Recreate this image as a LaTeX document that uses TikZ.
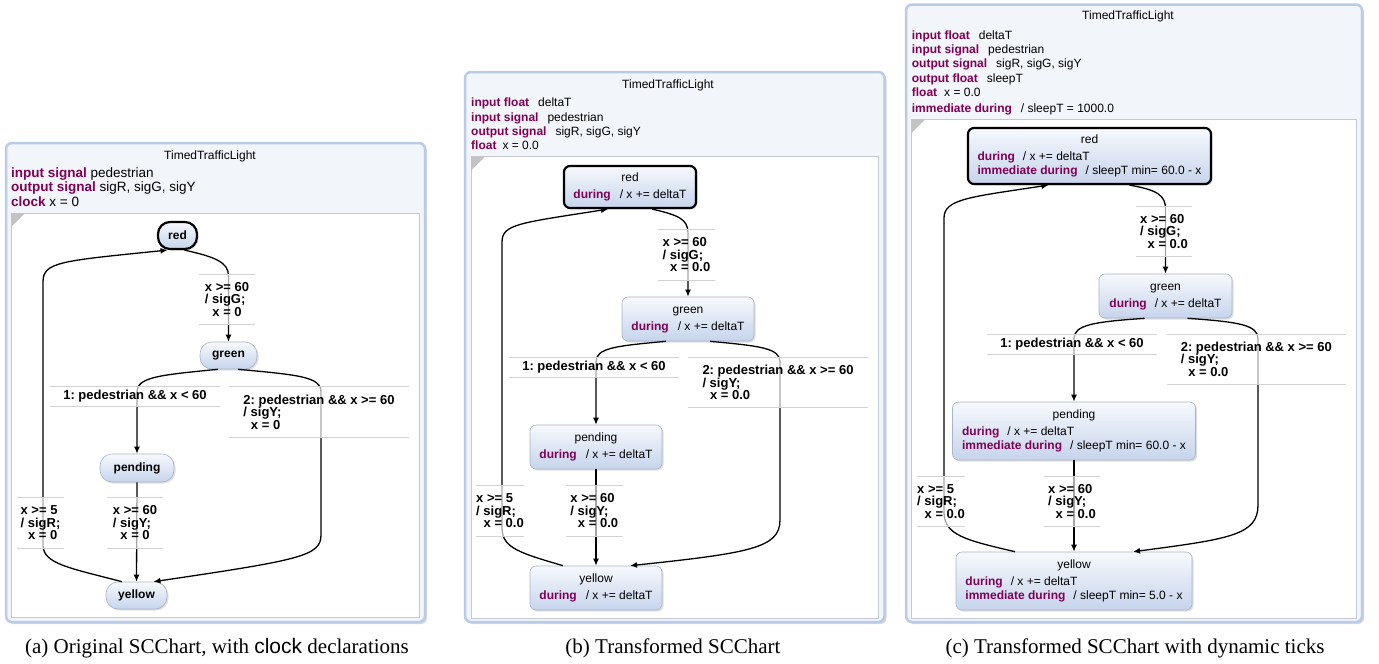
\documentclass[tikz,border=0pt]{standalone}
\usepackage{fontspec}
\setmainfont{Liberation Serif}
\setsansfont{Liberation Sans}
\usetikzlibrary{arrows.meta,shadows}
\definecolor{kw}{HTML}{7F0055}
\definecolor{stTop}{HTML}{F7F9FD}
\definecolor{stBot}{HTML}{C6D4EC}
\definecolor{stBorder}{HTML}{A8B4C8}
\definecolor{panelBorder}{HTML}{B9CBE6}
\definecolor{panelFill}{HTML}{F2F5FA}
\definecolor{innerBorder}{HTML}{C4C9D1}
\definecolor{lblGray}{HTML}{D2D2D2}
\definecolor{cornerGray}{HTML}{C3C3C3}
\newcommand{\kwd}[1]{{\bfseries\color{kw}#1}}
\newcommand{\stbody}[2]{\begin{tabular}{@{}l@{}}\multicolumn{1}{@{}c@{}}{#1}\\[3pt]#2\end{tabular}}
\newcommand{\hlines}[1]{\draw[lblline] (#1.north west) -- (#1.north east) (#1.south west) -- (#1.south east);}
\frenchspacing
\tikzset{
  every node/.style={font=\sffamily\fontsize{12}{14}\selectfont},
  pill/.style={rectangle, rounded corners=12pt, draw=stBorder, line width=0.6pt,
    top color=stTop, bottom color=stBot, inner sep=0pt,
    drop shadow={opacity=0.25,shadow xshift=1.5pt,shadow yshift=-1.5pt},
    font=\sffamily\bfseries\fontsize{12}{14}\selectfont},
  stbox/.style={rectangle, rounded corners=6pt, draw=stBorder, line width=0.6pt,
    top color=stTop, bottom color=stBot, inner sep=0pt,
    drop shadow={opacity=0.25,shadow xshift=1.5pt,shadow yshift=-1.5pt}},
  initst/.style={draw=black, line width=2.2pt},
  tr/.style={draw=black, line width=1.3pt, -{Latex[length=7pt,width=6pt]}},
  lbl/.style={fill=white, fill opacity=0.65, text opacity=1, inner sep=0pt, align=left,
    font=\sffamily\bfseries\fontsize{13}{12.5}\selectfont},
  lblline/.style={draw=lblGray, line width=0.8pt},
  panel/.style={draw=panelBorder, line width=2.5pt, fill=panelFill, rounded corners=6pt,
    drop shadow={opacity=0.3,shadow xshift=2pt,shadow yshift=-2pt}},
  innerarea/.style={draw=innerBorder, line width=0.7pt, fill=white},
  cornermark/.style={fill=cornerGray},
  decl/.style={anchor=north west, align=left, inner sep=0pt},
  ttl/.style={inner sep=0pt},
  capt/.style={font=\rmfamily\fontsize{21}{24}\selectfont, inner sep=0pt}
}
\begin{document}
\frenchspacing
\begin{tikzpicture}[x=1pt,y=-1pt]
\useasboundingbox (0,0) rectangle (1379,664);
\fill[white] (0,0) rectangle (1379,664);

% ================= panel (a) =================
\draw[panel] (6,143) rectangle (425,622);
\draw[innerarea] (11,213) rectangle (419,617);
\fill[cornermark] (11,213) -- (25,213) -- (11,227) -- cycle;
\node[ttl] (ta) at (210,156) {TimedTrafficLight};
\node[decl,font=\sffamily\fontsize{13.5}{14.5}\selectfont] (da) at (11,167.5)
  {\kwd{input signal} pedestrian\\\kwd{output signal} sigR, sigG, sigY\\\kwd{clock} x = 0};

\node[pill,initst,minimum width=39pt,minimum height=27pt] (ra) at (177.5,235.5) {red};
\node[pill,minimum width=57pt,minimum height=27pt] (ga) at (228.5,355.5) {green};
\node[pill,minimum width=74pt,minimum height=28pt] (pa) at (137,468) {pending};
\node[pill,minimum width=61pt,minimum height=27pt] (ya) at (136.5,595.5) {yellow};

\draw[tr] ([xshift=7pt]ra.south) .. controls (215,257) and (228.5,262) .. (228.5,276) -- (ga.north);
\draw[tr] ([xshift=-10.5pt]ga.south) .. controls (160,375) and (137,377) .. (137,392) -- (pa.north);
\draw[tr] ([xshift=9.5pt]ga.south) .. controls (300,375) and (321,377) .. (321,392) -- (321,535)
  .. controls (321,556) and (300,560) .. ([xshift=17pt]ya.north);
\draw[tr] (pa.south) -- (ya.north);
\draw[tr] ([xshift=-14.5pt]ya.north) .. controls (70,568) and (43,564) .. (43,545) -- (43,282)
  .. controls (43,262) and (60,261) .. ([xshift=-10pt]ra.south);

\node[lbl,minimum width=56pt,minimum height=49pt] (la1) at (227,299.5) {x >= 60\\/ sigG;\\\hspace*{7.5pt}x = 0};
\node[lbl,minimum width=170pt,minimum height=19.5pt] (la2) at (135,396.5) {1: pedestrian \&\& x < 60};
\node[lbl,minimum width=180pt,minimum height=50pt] (la3) at (319,412) {2: pedestrian \&\& x >= 60\\/ sigY;\\\hspace*{7.5pt}x = 0};
\node[lbl,minimum width=56pt,minimum height=50pt] (la4) at (135,523) {x >= 60\\/ sigY;\\\hspace*{7.5pt}x = 0};
\node[lbl,minimum width=47pt,minimum height=50pt] (la5) at (40.5,523) {x >= 5\\/ sigR;\\\hspace*{7.5pt}x = 0};
\hlines{la1}\hlines{la2}\hlines{la3}\hlines{la4}\hlines{la5}

% ================= panel (b) =================
\draw[panel] (465,72) rectangle (884.5,622);
\draw[innerarea] (471,156.7) rectangle (878,618);
\fill[cornermark] (471,156.7) -- (485,156.7) -- (471,170.7) -- cycle;
\node[ttl] (tb) at (668,85) {TimedTrafficLight};
\node[decl,font=\sffamily\fontsize{12}{14.3}\selectfont] (db) at (471,98)
  {\kwd{input float}\hspace{9pt}deltaT\\\kwd{input signal}\hspace{9pt}pedestrian\\\kwd{output signal}\hspace{9pt}sigR, sigG, sigY\\\kwd{float}\hspace{6pt}x = 0.0};

\node[stbox,initst,minimum width=132pt,minimum height=42pt] (rb) at (630,187) {\stbody{red}{\kwd{during}\hspace{9pt}/ x += deltaT}};
\node[stbox,minimum width=132pt,minimum height=44pt] (gb) at (688,319) {\stbody{green}{\kwd{during}\hspace{9pt}/ x += deltaT}};
\node[stbox,minimum width=132pt,minimum height=44pt] (pb) at (596,447) {\stbody{pending}{\kwd{during}\hspace{9pt}/ x += deltaT}};
\node[stbox,minimum width=132pt,minimum height=44pt] (yb) at (596,588) {\stbody{yellow}{\kwd{during}\hspace{9pt}/ x += deltaT}};

\draw[tr] ([xshift=22pt]rb.south) .. controls (678,215) and (688,219) .. (688,233) -- (gb.north);
\draw[tr] ([xshift=-22pt]gb.south) .. controls (615,346) and (596,348) .. (596,362) -- (pb.north);
\draw[tr] ([xshift=22pt]gb.south) .. controls (760,346) and (780,348) .. (780,362) -- (780,520)
  .. controls (780,548) and (750,553) .. ([xshift=34pt]yb.north);
\draw[tr] (pb.south) -- (yb.north);
\draw[tr] ([xshift=-33pt]yb.north) .. controls (520,553) and (502,548) .. (502,528) -- (502,242)
  .. controls (502,224) and (520,223) .. ([xshift=-22pt]rb.south);

\node[lbl,minimum width=57pt,minimum height=50pt] (lb1) at (686.5,255) {x >= 60\\/ sigG;\\\hspace*{7.5pt}x = 0.0};
\node[lbl,minimum width=170pt,minimum height=19pt] (lb2) at (594,367.5) {1: pedestrian \&\& x < 60};
\node[lbl,minimum width=180pt,minimum height=49pt] (lb3) at (778,382.5) {2: pedestrian \&\& x >= 60\\/ sigY;\\\hspace*{7.5pt}x = 0.0};
\node[lbl,minimum width=57pt,minimum height=50pt] (lb4) at (594.3,510.7) {x >= 60\\/ sigY;\\\hspace*{7.5pt}x = 0.0};
\node[lbl,minimum width=48pt,minimum height=50pt] (lb5) at (500,511) {x >= 5\\/ sigR;\\\hspace*{7.5pt}x = 0.0};
\hlines{lb1}\hlines{lb2}\hlines{lb3}\hlines{lb4}\hlines{lb5}

% ================= panel (c) =================
\draw[panel] (906,4.5) rectangle (1362,622);
\draw[innerarea] (911.7,119) rectangle (1356.7,618);
\fill[cornermark] (911.7,119) -- (925.7,119) -- (911.7,133) -- cycle;
\node[ttl] (tc) at (1128,16.7) {TimedTrafficLight};
\node[decl,font=\sffamily\fontsize{12}{14.3}\selectfont] (dc) at (911.7,30.5)
  {\kwd{input float}\hspace{9pt}deltaT\\\kwd{input signal}\hspace{9pt}pedestrian\\\kwd{output signal}\hspace{9pt}sigR, sigG, sigY\\\kwd{output float}\hspace{9pt}sleepT\\\kwd{float}\hspace{7pt}x = 0.0\\[1.7pt]\kwd{immediate during}\hspace{9pt}/ sleepT = 1000.0};

\node[stbox,initst,minimum width=243pt,minimum height=56pt] (rc) at (1089.5,156) {\stbody{red}{\kwd{during}\hspace{8pt}/ x += deltaT\\\kwd{immediate during}\hspace{8pt}/ sleepT min= 60.0 - x}};
\node[stbox,minimum width=133pt,minimum height=44pt] (gc) at (1165.5,296) {\stbody{green}{\kwd{during}\hspace{8pt}/ x += deltaT}};
\node[stbox,minimum width=243pt,minimum height=58pt] (pc) at (1074,431) {\stbody{pending}{\kwd{during}\hspace{8pt}/ x += deltaT\\\kwd{immediate during}\hspace{8pt}/ sleepT min= 60.0 - x}};
\node[stbox,minimum width=236pt,minimum height=58pt] (yc) at (1074,581) {\stbody{yellow}{\kwd{during}\hspace{8pt}/ x += deltaT\\\kwd{immediate during}\hspace{8pt}/ sleepT min= 5.0 - x}};

\draw[tr] ([xshift=40pt]rc.south) .. controls (1157,190) and (1165.5,195) .. (1165.5,209) -- (gc.north);
\draw[tr] ([xshift=-21pt]gc.south) .. controls (1092,322) and (1074,325) .. (1074,339) -- (pc.north);
\draw[tr] ([xshift=22pt]gc.south) .. controls (1240,322) and (1258,325) .. (1258,339) -- (1258,505)
  .. controls (1258,535) and (1230,539) .. ([xshift=59pt]yc.north);
\draw[tr] (pc.south) -- (yc.north);
\draw[tr] ([xshift=-59pt]yc.north) .. controls (965,540) and (944,535) .. (944,512) -- (944,218)
  .. controls (944,199) and (970,197) .. ([xshift=-41pt]rc.south);

\node[lbl,minimum width=56pt,minimum height=49pt] (lc1) at (1164,231.3) {x >= 60\\/ sigG;\\\hspace*{7.5pt}x = 0.0};
\node[lbl,minimum width=170pt,minimum height=19.7pt] (lc2) at (1072,344) {1: pedestrian \&\& x < 60};
\node[lbl,minimum width=179pt,minimum height=49.7pt] (lc3) at (1256.3,359.2) {2: pedestrian \&\& x >= 60\\/ sigY;\\\hspace*{7.5pt}x = 0.0};
\node[lbl,minimum width=56pt,minimum height=49pt] (lc4) at (1072,501.3) {x >= 60\\/ sigY;\\\hspace*{7.5pt}x = 0.0};
\node[lbl,minimum width=48pt,minimum height=49pt] (lc5) at (941,501.3) {x >= 5\\/ sigR;\\\hspace*{7.5pt}x = 0.0};
\hlines{lc1}\hlines{lc2}\hlines{lc3}\hlines{lc4}\hlines{lc5}

% ================= captions =================
\node[capt] (capa) at (217,648) {(a) Original SCChart, with {\sffamily clock} declarations};
\node[capt] (capb) at (673,648) {(b) Transformed SCChart};
\node[capt] (capc) at (1135,648) {(c) Transformed SCChart with dynamic ticks};
\end{tikzpicture}
\end{document}
